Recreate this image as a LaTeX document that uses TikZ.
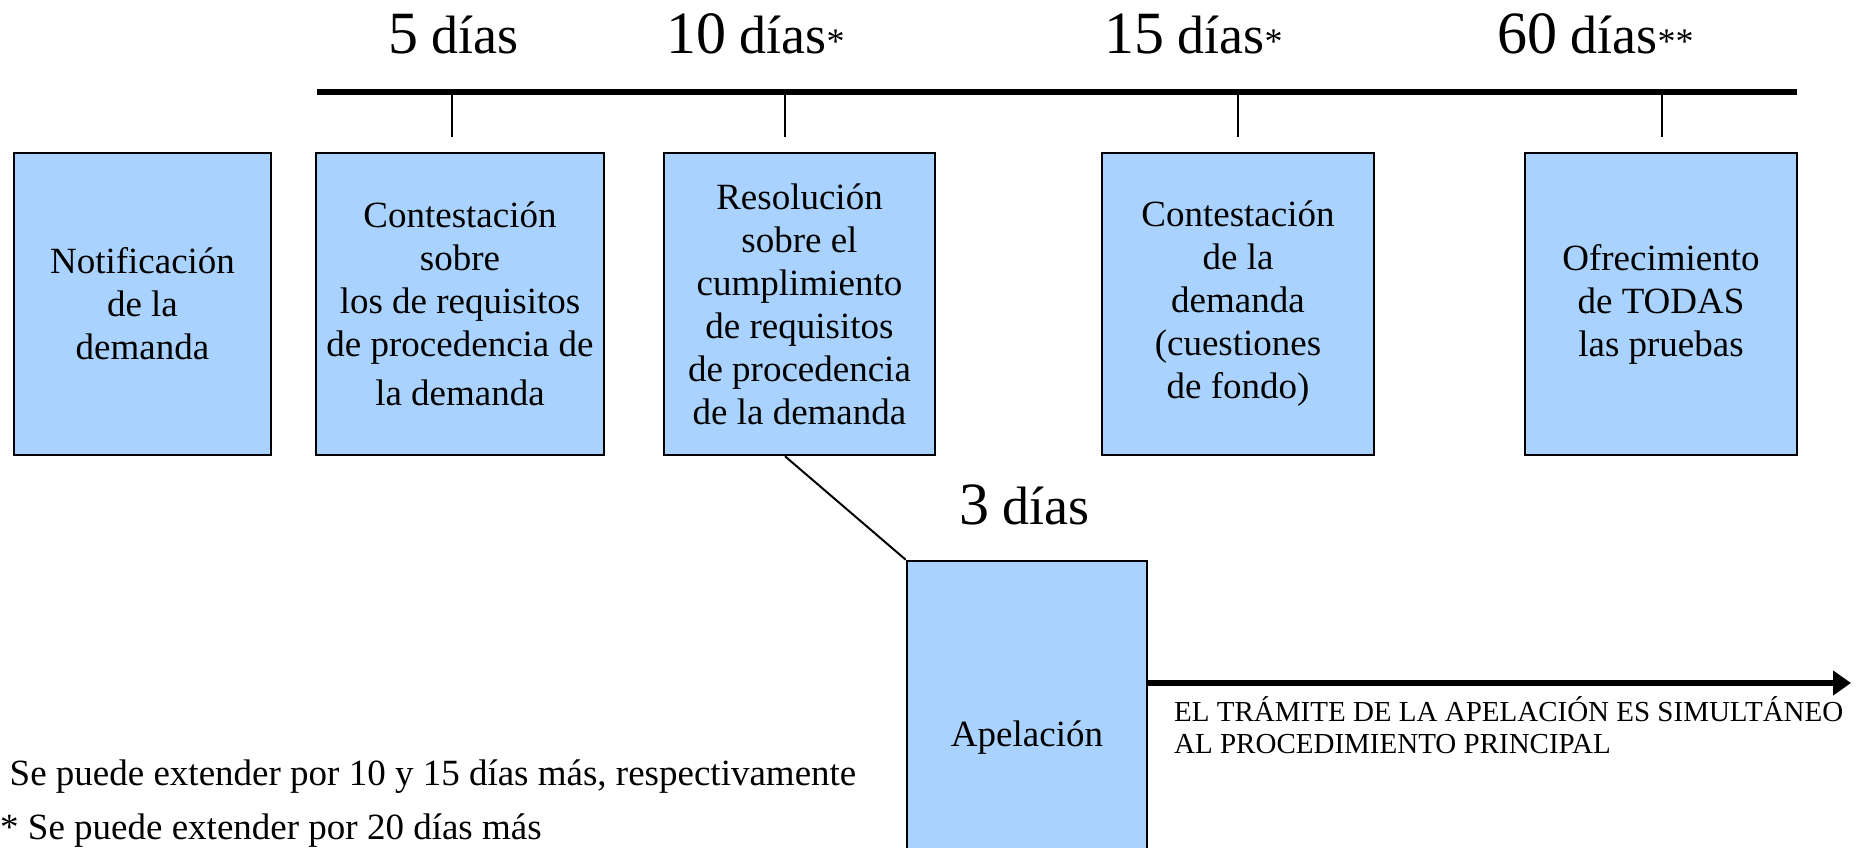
\documentclass[tikz,border=0pt]{standalone}
\usepackage{fontspec}
\setmainfont{Liberation Serif}
\usetikzlibrary{arrows.meta}
\definecolor{cajaazul}{RGB}{169,211,254}
\newcommand{\plazodias}[2]{{\fontsize{60}{60}\selectfont #1}\fontsize{54}{54}\selectfont{} días{\fontsize{36}{36}\selectfont #2}}

\begin{document}
\begin{tikzpicture}[x=1pt,y=-1pt]
        \tikzstyle{etapa}=[rectangle,draw=black,line width=2.5pt,fill=cajaazul,align=center,inner sep=0pt,minimum height=302pt,font=\fontsize{37}{43}\selectfont]
        \tikzstyle{linea}=[draw,line width=2pt]
        \tikzstyle{eje}=[draw,line width=5.5pt]
        \tikzstyle{dias}=[anchor=base west,inner sep=0pt]
        \tikzstyle{nota}=[anchor=base west,inner sep=0pt,font=\fontsize{37}{43}\selectfont]
        \tikzstyle{aviso}=[anchor=base west,inner sep=0pt,font=\fontsize{29}{33}\selectfont]
        \useasboundingbox (0,0) rectangle (1856,848);
       \begin{scope}
         % linea de tiempo
         \coordinate (eje-ini) at (317,92);
         \coordinate (eje-fin) at (1797,92);
         \coordinate (t1) at (452,92);
         \coordinate (t2) at (785,92);
         \coordinate (t3) at (1238,92);
         \coordinate (t4) at (1662,92);
         \coordinate (b1) at (452,137);
         \coordinate (b2) at (785,137);
         \coordinate (b3) at (1238,137);
         \coordinate (b4) at (1662,137);
         \path[eje] (eje-ini) -- (eje-fin);
         \path[linea] (t1) -- (b1);
         \path[linea] (t2) -- (b2);
         \path[linea] (t3) -- (b3);
         \path[linea] (t4) -- (b4);
         \node [dias] (d5) at (388,54) {\plazodias{5}{}};
         \node [dias] (d10) at (666,54) {\plazodias{10}{*}};
         \node [dias] (d15) at (1104,54) {\plazodias{15}{*}};
         \node [dias] (d60) at (1497,54) {\plazodias{60}{**}};
         % etapas
         \node [etapa,minimum width=257pt] (caja1) at (142.5,304) {Notificación\\ de la\\ demanda};
         \node [etapa,minimum width=288pt] (caja2) at (460,304) {Contestación\\ sobre\\ los de requisitos\\ de procedencia de\\[6pt] la demanda};
         \node [etapa,minimum width=271pt] (caja3) at (799.5,304) {Resolución\\ sobre el\\ cumplimiento\\ de requisitos\\ de procedencia\\ de la demanda};
         \node [etapa,minimum width=272pt] (caja4) at (1238,304) {Contestación\\ de la\\ demanda\\ (cuestiones\\ de fondo)};
         \node [etapa,minimum width=272pt] (caja5) at (1661,304) {Ofrecimiento\\ de TODAS\\ las pruebas};
         % apelacion
         \node [etapa,minimum width=240pt,minimum height=354pt] (apel) at (1027,738) {Apelación};
         \node [dias] (d3) at (959,524) {\plazodias{3}{}};
         \path[linea] (caja3.south -| t2) -- (apel.north west);
         \coordinate (flecha-fin) at (1851,683);
         \draw[line width=5.5pt,-{Triangle[length=18pt,width=24pt]}] (apel.east |- flecha-fin) -- (flecha-fin);
         \node [aviso] (av1) at (1174,721) {EL TRÁMITE DE LA APELACIÓN ES SIMULTÁNEO};
         \node [aviso] (av2) at (1174,753) {AL PROCEDIMIENTO PRINCIPAL};
         % notas
         \node [nota] (n1) at (9.5,785) {Se puede extender por 10 y 15 días más, respectivamente};
         \node [nota] (n2) at (0,839) {* Se puede extender por 20 días más};
        \end{scope}
      \end{tikzpicture}
\end{document}
